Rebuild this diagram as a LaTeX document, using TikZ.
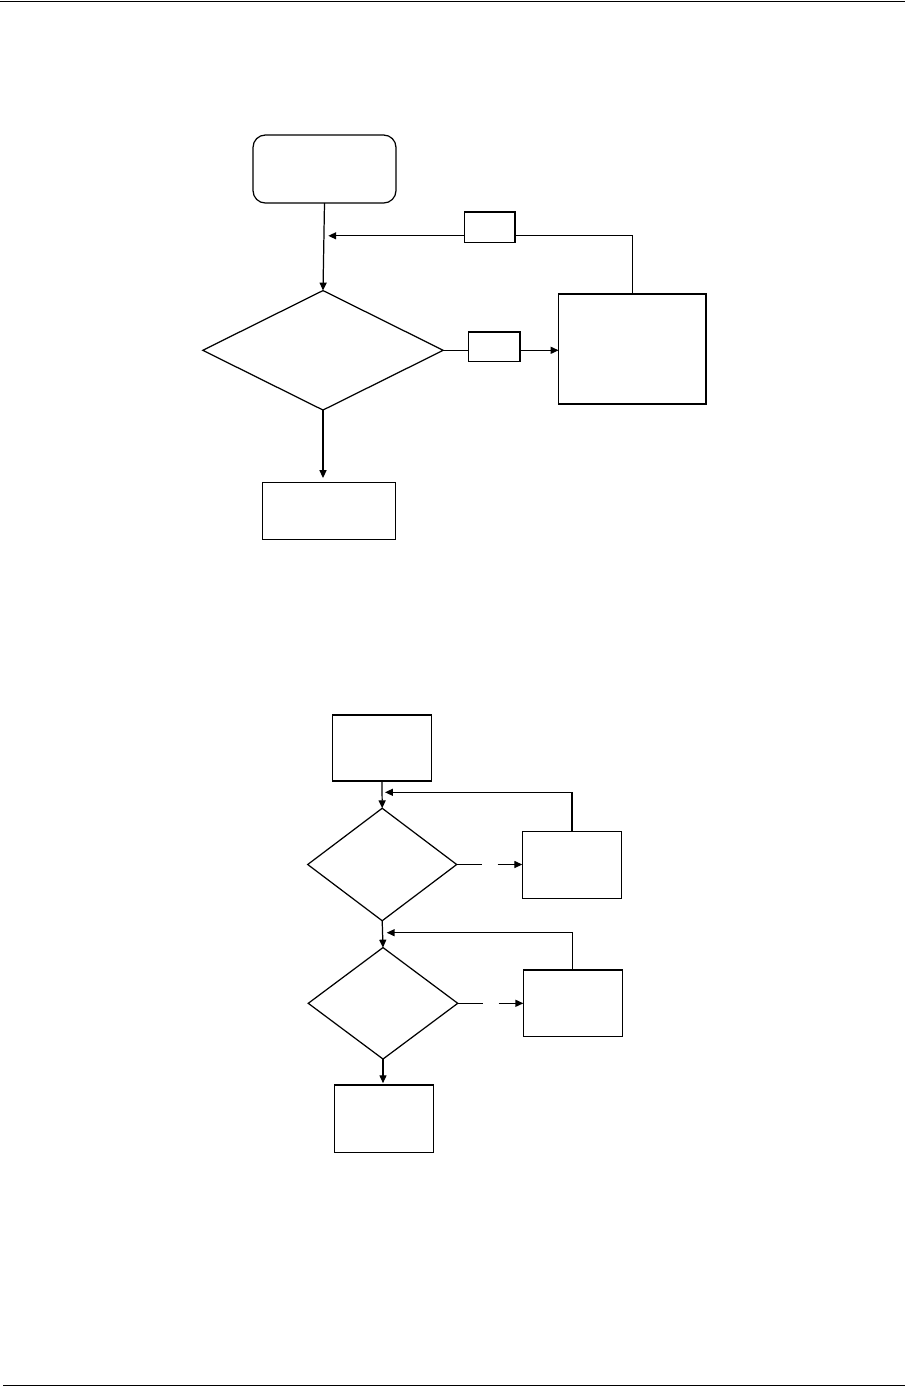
\documentclass[tikz,border=0pt]{standalone}
\usepackage{tikz}
\usetikzlibrary{positioning}
\usetikzlibrary{shapes.geometric,arrows.meta}

\begin{document}
\begin{tikzpicture}[x=0.02cm,y=-0.02cm,>={Triangle[length=4.5pt,width=4pt]},line width=0.7pt,
  box/.style={draw,inner sep=0pt,outer sep=0pt},
  decision/.style={draw,diamond,inner sep=0pt,outer sep=0pt}]
  \useasboundingbox (0,0) rectangle (912,1387);
  % page rules
  \draw[line width=1.1pt] (0,1.5) -- (905,1.5);
  \draw[line width=1.1pt] (3,1385.5) -- (905,1385.5);
  % first chart
  \node[box,rounded corners=7pt,minimum width=2.86cm,minimum height=1.36cm] (start) at (324.5,169) {};
  \node[decision,minimum width=4.81cm,minimum height=2.39cm] (dec) at (323,350.3) {};
  \node[box,minimum width=2.95cm,minimum height=2.2cm] (boxR) at (632.3,349) {};
  \node[box,minimum width=1.01cm,minimum height=0.61cm] (tagA) at (489.7,227.2) {};
  \node[box,minimum width=1.03cm,minimum height=0.59cm] (tagB) at (494.2,346.7) {};
  \node[box,minimum width=2.66cm,minimum height=1.14cm] (endA) at (328.7,511.3) {};
  \coordinate (backA) at (328.3,235.8);
  \draw[->] (start.south) -- (dec.north);
  \draw (boxR.north) |- (tagA.east |- backA);
  \draw[->] (tagA.west |- backA) -- (backA);
  \draw (dec.east) -- (tagB.west |- dec.east);
  \draw[->] (tagB.east |- dec.east) -- (boxR.west |- dec.east);
  \draw[->,shorten >=2.7pt] (dec.south) -- (dec.south |- endA.north);
  % second chart
  \node[box,minimum width=1.99cm,minimum height=1.32cm] (startB) at (382,748) {};
  \node[decision,minimum width=2.98cm,minimum height=2.25cm] (decB1) at (382.2,864.5) {};
  \node[box,minimum width=1.99cm,minimum height=1.33cm] (boxB1) at (572,865) {};
  \node[decision,minimum width=2.99cm,minimum height=2.23cm] (decB2) at (383,1003.3) {};
  \node[box,minimum width=1.98cm,minimum height=1.33cm] (boxB2) at (572.8,1003.2) {};
  \node[box,minimum width=1.99cm,minimum height=1.35cm] (endB) at (384,1118.7) {};
  \coordinate (backB1) at (385,792.3);
  \coordinate (backB2) at (386.7,932.7);
  \coordinate (gapB1a) at (482,864.5);
  \coordinate (gapB1b) at (497.5,864.5);
  \coordinate (gapB2a) at (483,1003.3);
  \coordinate (gapB2b) at (498.5,1003.3);
  \draw[->] (startB.south) -- (decB1.north);
  \draw[->] (boxB1.north) |- (backB1);
  \draw (decB1.east) -- (gapB1a);
  \draw[->] (gapB1b) -- (boxB1.west |- gapB1b);
  \draw[->] (decB1.south) -- (decB2.north);
  \draw[->] (boxB2.north) |- (backB2);
  \draw (decB2.east) -- (gapB2a);
  \draw[->] (gapB2b) -- (boxB2.west |- gapB2b);
  \draw[->,shorten >=1pt] (decB2.south) -- (decB2.south |- endB.north);
\end{tikzpicture}
\end{document}
